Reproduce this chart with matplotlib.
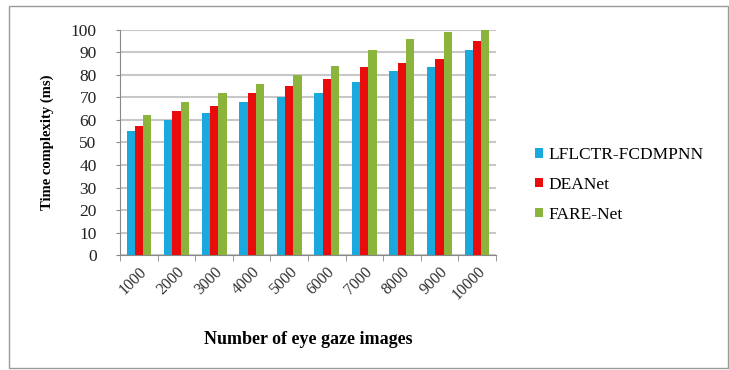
import matplotlib.pyplot as plt
import numpy as np
from matplotlib.patches import Rectangle

plt.rcParams['font.family'] = ['Liberation Serif', 'DejaVu Serif']

# Dados do gráfico
imagens = ['1000', '2000', '3000', '4000', '5000', '6000', '7000', '8000', '9000', '10000']
lflctr = [55, 60, 63, 68, 70, 72, 77, 81.5, 83.5, 91]
deanet = [57.5, 64, 66, 72, 75, 78, 83.5, 85, 87, 95]
farenet = [62, 68, 72, 76, 80, 84, 91, 96, 99, 100]

series = [('LFLCTR-FCDMPNN', lflctr, '#1aa9dc'),
          ('DEANet', deanet, '#e80c0c'),
          ('FARE-Net', farenet, '#8ab43c')]

fig = plt.figure(figsize=(7.29, 3.70), dpi=100)
ax = fig.add_axes([0.165, 0.31, 0.515, 0.61])

x = np.arange(len(imagens))
w = 0.22
for k, (nome, vals, cor) in enumerate(series):
    ax.bar(x + (k - 1) * w, vals, w, color=cor, label=nome, zorder=3)

ax.set_xlim(-0.5, len(imagens) - 0.5)
ax.set_ylim(0, 100)
ax.set_yticks(range(0, 101, 10))
ax.grid(axis='y', color='#c8c8c8', linewidth=1.5, zorder=0)
for lado in ['top', 'right']:
    ax.spines[lado].set_visible(False)
ax.spines['left'].set_color('#888888')
ax.spines['bottom'].set_color('#888888')
ax.tick_params(axis='y', labelsize=12.5, length=3, color='#888888', pad=14, labelcolor='#222222')

ax.set_xticks(np.arange(len(imagens) + 1) - 0.5, minor=True)
ax.tick_params(axis='x', which='major', length=0, labelsize=11.5, pad=6, labelcolor='#333333')
ax.tick_params(axis='x', which='minor', length=4, color='#888888')
ax.set_xticks(x)
ax.set_xticklabels(imagens, rotation=45, ha='right', rotation_mode='anchor')

ax.set_ylabel('Time complexity (ms)', fontsize=10.5, fontweight='bold', labelpad=12)
ax.set_xlabel('Number of eye gaze images', fontsize=13, fontweight='bold', labelpad=20)

fig.legend(loc='center left', bbox_to_anchor=(0.713, 0.5), frameon=False, fontsize=12.5,
           handlelength=0.45, handleheight=0.45, handletextpad=0.3, labelspacing=0.8)

# moldura externa
fig.patches.append(Rectangle((0.013, 0.005), 0.985, 0.98, transform=fig.transFigure,
                             fill=False, edgecolor='#9a9a9a', linewidth=1))

plt.savefig('out.png', dpi=100)
